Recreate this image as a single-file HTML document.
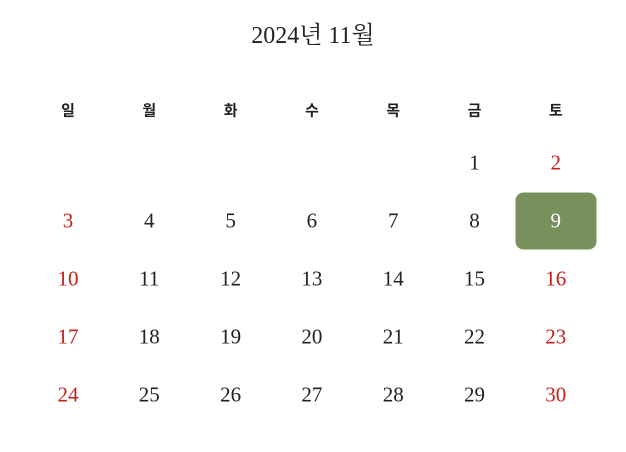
<!DOCTYPE html>
<html><head><meta charset="utf-8"><style>
body{margin:0;width:626px;height:452px;background:#fff;position:relative;overflow:hidden;font-family:"Liberation Serif","Noto Serif CJK KR","Noto Serif CJK SC",serif;color:#222}
.t{position:absolute;left:0;width:626px;top:15px;text-align:center;font-size:24px}
.h,.d{position:absolute;width:81px;text-align:center;transform:translate(-50%,-50%)}
.h{font-weight:bold;font-size:15px;font-family:"Noto Sans CJK KR","NanumGothic",sans-serif}
.d{font-size:21px;line-height:57px;height:57px}
.r{color:#c41e17}
.sel{background:#77905c;color:#fff;border-radius:8px}
</style></head><body>
<div class="t">2024년 11월</div>
<div id="cal"></div>
<script>
const weekdays=['일','월','화','수','목','금','토'];
const firstDay=5, daysInMonth=30, selectedDay=9;
const cal=document.getElementById('cal');
const cx=i=>68+i*81.3;
weekdays.forEach((w,i)=>{const e=document.createElement('div');e.className='h';e.textContent=w;e.style.left=cx(i)+'px';e.style.top='110px';


cal.appendChild(e);});
for(let d=1;d<=daysInMonth;d++){const p=firstDay+d-1,c=p%7,r=Math.floor(p/7);
const e=document.createElement('div');e.className='d'+((c==0||c==6)?' r':'')+(d==selectedDay?' sel':'');
e.textContent=d;e.style.left=cx(c)+'px';e.style.top=(163+r*58)+'px';


cal.appendChild(e);}
</script>
</body></html>
